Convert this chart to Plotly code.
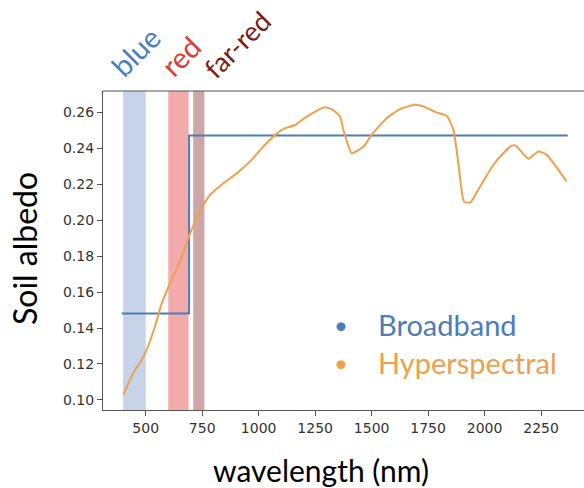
import plotly.graph_objects as go

# ---- data ----
hyper_wl = [401, 445, 482, 504, 541, 571, 608, 652, 697, 741, 785, 844, 903, 969,
            1014, 1073, 1117, 1161, 1206, 1265, 1290, 1323, 1360, 1375, 1412, 1464,
            1500, 1567, 1626, 1692, 1737, 1788, 1833, 1862, 1884, 1909, 1936, 1980,
            2039, 2083, 2120, 2139, 2194, 2238, 2275, 2363]
hyper_alb = [0.1028, 0.1149, 0.1222, 0.1278, 0.1408, 0.1538, 0.1649, 0.1769, 0.1927,
             0.2052, 0.2140, 0.2205, 0.2260, 0.2335, 0.2400, 0.2474, 0.2511, 0.2529,
             0.2570, 0.2613, 0.2628, 0.2617, 0.2576, 0.2502, 0.2372, 0.2409, 0.2474,
             0.2567, 0.2617, 0.2641, 0.2628, 0.2598, 0.2579, 0.2502, 0.2316, 0.2103,
             0.2097, 0.2186, 0.2308, 0.2372, 0.2414, 0.2413, 0.2341, 0.2382, 0.2363,
             0.2215]
broad_wl = [395, 692, 2368]
broad_alb = [0.148, 0.247, 0.247]

band_names = ["blue", "red", "far-red"]
band_lo = [400, 600, 710]
band_hi = [500, 690, 760]
band_fill = ["#c6d3e8", "#f2aaaa", "#cfa6a8"]
band_text = ["#4a7ebf", "#e3383c", "#7b1a1a"]

x_ticks = [500, 750, 1000, 1250, 1500, 1750, 2000, 2250]
y_ticks = [0.10, 0.12, 0.14, 0.16, 0.18, 0.20, 0.22, 0.24, 0.26]

legend_names = ["Broadband", "Hyperspectral"]
legend_colors = ["#4a7dba", "#f0a04b"]

x_title = "wavelength (nm)"
y_title = "Soil albedo"

# ---- layout geometry ----
L, R, T, B = 103, 0, 91, 78
W, H = 584, 488
PW, PH = W - L - R, H - T - B

def px_x(px):
    return (px - L) / PW

def px_y(py):
    return (H - B - py) / PH

fig = go.Figure()

for lo, hi, c in zip(band_lo, band_hi, band_fill):
    fig.add_shape(type="rect", xref="x", yref="paper", x0=lo, x1=hi, y0=0, y1=1,
                  fillcolor=c, line_width=0, layer="below")

fig.add_trace(go.Scatter(x=broad_wl, y=broad_alb, mode="lines", line_shape="hv",
                         line=dict(color=legend_colors[0], width=2),
                         name=legend_names[0], showlegend=False))
fig.add_trace(go.Scatter(x=hyper_wl, y=hyper_alb, mode="lines",
                         line=dict(color=legend_colors[1], width=2, shape="spline", smoothing=0.5),
                         name=legend_names[1], showlegend=False))

# top spine
fig.add_shape(type="line", xref="paper", yref="paper", x0=0, x1=1, y0=1, y1=1,
              line=dict(color="#555555", width=1.2))

# band labels
label_px = [(135, 86), (181, 86), (237, 88)]
label_size = [29, 29, 27]
for name, col, (cx, by), sz in zip(band_names, band_text, label_px, label_size):
    fig.add_annotation(text=name, xref="paper", yref="paper", x=px_x(cx), y=px_y(by),
                       xanchor="center", yanchor="bottom", showarrow=False, textangle=-45,
                       font=dict(family="Lato", size=sz, color=col))

# legend
leg_y = [324, 362]
for name, col, py in zip(legend_names, legend_colors, leg_y):
    fig.add_annotation(text="\u2022", xref="paper", yref="paper", x=px_x(341), y=px_y(py),
                       xanchor="center", yanchor="middle", showarrow=False,
                       font=dict(family="Lato", size=24, color=col))
    fig.add_annotation(text=name, xref="paper", yref="paper", x=px_x(376), y=px_y(py),
                       xanchor="left", yanchor="middle", showarrow=False,
                       font=dict(family="Lato", size=29, color=col))

# axis titles
fig.add_annotation(text=x_title, xref="paper", yref="paper", x=px_x(321), y=px_y(470),
                   xanchor="center", yanchor="middle", showarrow=False,
                   font=dict(family="Lato", size=30, color="black"))
fig.add_annotation(text=y_title, xref="paper", yref="paper", x=px_x(24), y=px_y(249),
                   xanchor="center", yanchor="middle", showarrow=False, textangle=-90,
                   font=dict(family="Lato", size=32, color="black"))

fig.update_layout(
    width=W, height=H,
    margin=dict(l=L, r=R, t=T, b=B, autoexpand=False),
    plot_bgcolor="white", paper_bgcolor="white",
    showlegend=False,
    xaxis=dict(range=[311, 2440], tickvals=x_ticks, showgrid=False, zeroline=False,
               automargin=False,
               showline=True, linecolor="#555555", linewidth=1.2,
               ticks="outside", ticklen=5, tickcolor="#555555",
               tickfont=dict(family="DejaVu Sans", size=14, color="#333333")),
    yaxis=dict(range=[0.0944, 0.2718], tickvals=y_ticks, tickformat=".2f",
               showgrid=False, zeroline=False, automargin=False,
               showline=True, linecolor="#555555", linewidth=1.2,
               ticks="outside", ticklen=5, tickcolor="#555555",
               tickfont=dict(family="DejaVu Sans", size=14, color="#333333")),
)

fig.write_html("out.html", config={"displayModeBar": False},
               post_script="document.body.style.margin='0px';")
